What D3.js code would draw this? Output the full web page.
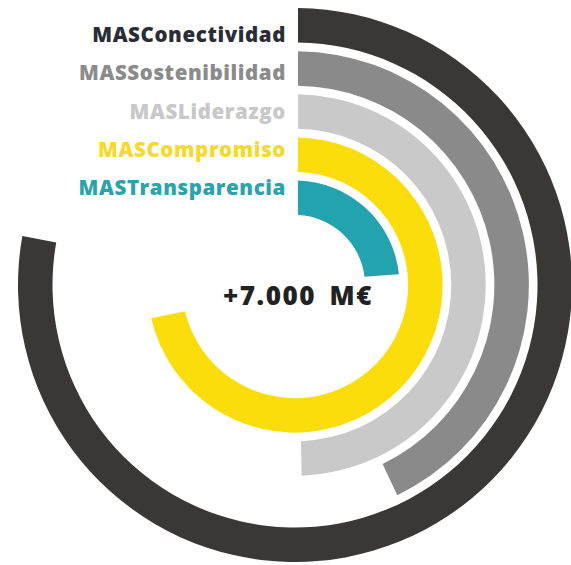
<!DOCTYPE html>
<html>
<head>
<meta charset="utf-8">
<script src="https://cdn.jsdelivr.net/npm/d3@7"></script>
<style>
  body { margin: 0; background: #fff; }
  svg { display: block; }
</style>
</head>
<body>
<div id="radial"></div>
<script>
// categories from outer ring to inner ring
const categories = ["MASConectividad", "MASSostenibilidad", "MASLiderazgo", "MASCompromiso", "MASTransparencia"];
// share of a full turn covered by each ring (%)
const values = [78, 43, 49.7, 71.7, 23.8];
const colors = ["#3a3737", "#8a8a8a", "#c9c9c9", "#fbdd0c", "#22a3ad"];
const labelColors = ["#2a2c36", "#8b8b8b", "#c8c8c8", "#f6d92c", "#2ba3aa"];
const centerLabel = "+7.000 M€";

const width = 571, height = 565;
const cx = 295, cy = 285;

const data = categories.map((c, i) => ({ name: c, value: values[i], color: colors[i], label: labelColors[i] }));

const svg = d3.select("#radial")
              .append("svg")
                .attr("width", width)
                .attr("height", height);

const g = svg.append("g")
             .attr("transform", `translate(${cx},${cy})`);

// radius bands, inner ring first
const r = d3.scaleBand()
            .domain(categories.slice().reverse())
            .range([70, 277])
            .paddingInner(0.2)
            .paddingOuter(0);

const angle = d3.scaleLinear()
                .domain([0, 100])
                .range([0, 2 * Math.PI]);

const arc = d3.arc()
              .innerRadius(d => r(d.name))
              .outerRadius(d => r(d.name) + r.bandwidth())
              .startAngle(0)
              .endAngle(d => angle(d.value))
              .padAngle(0.04)
              .padRadius(150);

// Draw the rings
g.append("g")
 .selectAll("path")
 .data(data)
 .join("path")
   .attr("d", arc)
   .attr("fill", d => d.color);

// Labels, right aligned next to the start of each ring
const ly = d3.scalePoint()
             .domain(categories)
             .range([42, 195]);

svg.append("g")
   .selectAll("text")
   .data(data)
   .join("text")
     .attr("x", 286)
     .attr("y", d => ly(d.name))
     .attr("text-anchor", "end")
     .attr("fill", d => d.label)
     .style("font-family", "'Open Sans', sans-serif")
     .style("font-weight", "800")
     .style("font-size", "20.5px")
     .style("letter-spacing", "0.6px")
     .text(d => d.name);

// Center amount
svg.append("text")
   .attr("x", 298)
   .attr("y", 305)
   .attr("text-anchor", "middle")
   .attr("fill", "#222")
   .style("font-family", "'Open Sans', sans-serif")
   .style("font-weight", "800")
   .style("font-size", "26px")
   .style("letter-spacing", "1.6px")
   .style("word-spacing", "5px")
   .text(centerLabel);
</script>
</body>
</html>
